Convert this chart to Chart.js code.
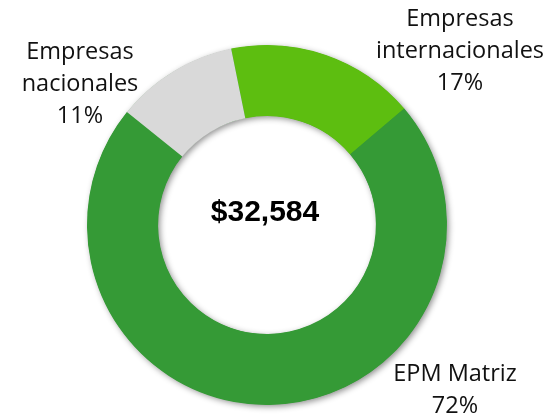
<!DOCTYPE html>
<html>
<head>
<meta charset="utf-8">
<script src="https://cdn.jsdelivr.net/npm/chart.js@4.4.0/dist/chart.umd.min.js"></script>
<style>
  html, body { margin: 0; padding: 0; background: #ffffff; }
  canvas { display: block; }
</style>
</head>
<body>
<canvas id="donutChart" width="552" height="419"></canvas>
<script>
// Chart data
const categories = ['Empresas internacionales', 'EPM Matriz', 'Empresas nacionales'];
const labelLines = [['Empresas', 'internacionales', '17%'], ['EPM Matriz', '72%'], ['Empresas', 'nacionales', '11%']];
const shares = [17, 72, 11];
const totalText = '$32,584';

const sliceColors = ['#5dbe10', '#359a36', '#d9d9d9'];

// Label anchors, relative to the doughnut centre
const labelOffsets = [[193, -206], [188, 149], [-187, -173]];

// Soft drop shadow under the ring
const ringShadow = {
  id: 'ringShadow',
  beforeDatasetsDraw(chart) {
    const arc = chart.getDatasetMeta(0).data[0];
    if (!arc) return;
    const { x, y, innerRadius, outerRadius } = arc.getProps(['x', 'y', 'innerRadius', 'outerRadius'], true);
    const c = chart.ctx;
    c.save();
    c.shadowColor = 'rgba(0,0,0,0.45)';
    c.shadowBlur = 6;
    c.shadowOffsetX = 2;
    c.shadowOffsetY = 2;
    c.fillStyle = '#359a36';
    c.beginPath();
    c.arc(x, y, outerRadius - 0.5, 0, Math.PI * 2);
    c.arc(x, y, innerRadius + 0.5, 0, Math.PI * 2, true);
    c.closePath();
    c.fill();
    c.restore();
  }
};

// Outside labels and centre total
const textLayer = {
  id: 'textLayer',
  afterDatasetsDraw(chart) {
    const arc = chart.getDatasetMeta(0).data[0];
    const { x, y } = arc.getProps(['x', 'y'], true);
    const c = chart.ctx;
    c.save();
    c.textAlign = 'center';
    c.textBaseline = 'middle';
    c.fillStyle = '#111111';
    c.font = '23.5px "Open Sans", sans-serif';
    labelLines.forEach((lines, i) => {
      const [dx, dy] = labelOffsets[i];
      lines.forEach((t, j) => c.fillText(t, x + dx, y + dy + j * 32));
    });
    c.fillStyle = '#000000';
    c.font = 'bold 30px "Liberation Sans", Arial, sans-serif';
    c.fillText(totalText, x - 2, y - 12);
    c.restore();
  }
};

new Chart(document.getElementById('donutChart'), {
  type: 'doughnut',
  data: {
    labels: categories,
    datasets: [{
      data: shares,
      backgroundColor: sliceColors,
      borderWidth: 0
    }]
  },
  options: {
    responsive: false,
    animation: false,
    rotation: -11.5,
    cutout: '60.5%',
    layout: {
      padding: { left: 87, right: 105, top: 45, bottom: 14 }
    },
    plugins: {
      legend: { display: false },
      tooltip: { enabled: false }
    }
  },
  plugins: [ringShadow, textLayer]
});
</script>
</body>
</html>
